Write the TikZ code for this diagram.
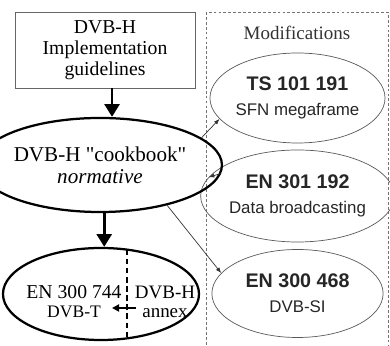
\documentclass[tikz,border=0pt]{standalone}
\usepackage{fontspec}
\setmainfont{Liberation Serif}[Ligatures=TeXOff]
\setsansfont{Liberation Sans}
\usetikzlibrary{shapes.geometric,arrows.meta}

\begin{document}
\begin{tikzpicture}[x=0.025cm, y=-0.025cm,
    bigfont/.style={font=\fontsize{14}{15}\selectfont},
    modell/.style={ellipse, draw=black!65, line width=0.5pt, minimum width=4.28cm, inner sep=0pt, align=center, text=black!85, font=\sffamily\fontsize{12}{17.5}\selectfont},
    thickell/.style={ellipse, draw, line width=1.6pt, inner sep=0pt},
    bigarrow/.style={line width=2pt, -{Triangle[length=9pt,width=10.5pt]}},
    midarrow/.style={line width=1.5pt, -{Triangle[length=5pt,width=5pt]}},
    thinarrow/.style={line width=0.5pt, draw=black!80, -{Latex[length=4pt,width=3pt]}}]
    \useasboundingbox (0,0) rectangle (390,346);

    % modifications frame
    \draw[black!55, line width=0.6pt, dash pattern=on 2pt off 1.5pt] (206,12) rectangle (388,352);
    \node[text=black!80, font=\fontsize{13.5}{15}\selectfont] (modhead) at (297,33) {Modifications};
    \foreach \n/\y/\h/\a/\b in {ts/98/2.25/TS 101 191/SFN megaframe, db/196/2.3/EN 301 192/Data broadcasting, si/293.5/2.2/EN 300 468/DVB-SI} {
        \node[modell, minimum height=\h cm] (\n) at (297.5,\y) {{\bfseries\fontsize{14}{17.5}\selectfont \a}\\\b};
    }

    % left column
    \node[draw=black!60, line width=0.6pt, minimum width=4.5cm, minimum height=1.9cm, align=center, bigfont] (guide) at (105,50) {DVB-H\\Implementation\\guidelines};
    \node[thickell, minimum width=4.85cm, minimum height=2.35cm, align=center, font=\fontsize{15}{15.5}\selectfont] (cook) at (100,165) {DVB-H "cookbook"\\\textit{normative}};
    \node[thickell, minimum width=4.9cm, minimum height=2.3cm] (base) at (101,294) {};
    \node[align=center, font=\fontsize{14}{13.5}\selectfont] (std) at (74,302) {EN 300 744\\{\fontsize{12.5}{13.5}\selectfont DVB-T}};
    \node[align=center, font=\fontsize{13.5}{13.5}\selectfont] (annex) at (165,302) {DVB-H\\annex};

    \coordinate (cutT) at (127,249.5); \coordinate (cutB) at (127,338.5);
    \draw[line width=1pt, dash pattern=on 4pt off 2.5pt] (cutT) -- (cutB);
    \coordinate (annexL) at (136,308); \coordinate (annexT) at (112,308);
    \draw[midarrow] (annexL) -- (annexT);

    \draw[bigarrow] ([xshift=5]guide.south) -- ([xshift=5]guide.south |- cook.north);
    \draw[bigarrow] ([xshift=3]cook.south) -- ([xshift=3]cook.south |- base.north);

    \draw[thinarrow] (cook.15) -- (ts.195);
    \draw[thinarrow] (cook.-4) -- (db.168);
    \draw[thinarrow] (cook.-31) -- (si.165);
\end{tikzpicture}
\end{document}
